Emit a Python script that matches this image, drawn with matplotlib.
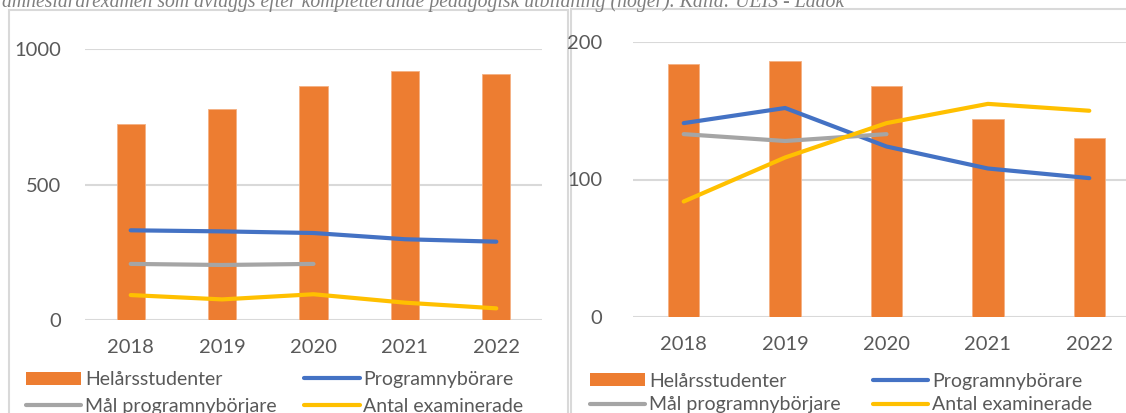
import matplotlib
matplotlib.use("Agg")
import matplotlib.pyplot as plt
from matplotlib.patches import Rectangle, Patch
from matplotlib.lines import Line2D

years = ["2018", "2019", "2020", "2021", "2022"]

# left chart
left_hst = [724, 777, 863, 918, 909]
left_nyb = [331, 327, 321, 298, 289]
left_mal = [207, 203, 207]
left_exam = [92, 76, 95, 64, 43]

# right chart
right_hst = [184, 186, 168, 144, 130]
right_nyb = [141, 152, 124, 108, 101]
right_mal = [133, 128, 133]
right_exam = [84, 116, 141, 155, 150]

caption = ("ämneslärarexamen som avläggs efter kompletterande pedagogisk "
           "utbildning (höger). Källa: UEIS - Ladok")

ORANGE = "#ED7D31"
BLUE = "#4472C4"
GRAY = "#A5A5A5"
YELLOW = "#FFC000"
TXT = "#595959"
GRID = "#D9D9D9"

plt.rcParams["font.family"] = ["Lato", "DejaVu Sans"]

W, H = 1126, 413
fig = plt.figure(figsize=(W / 100, H / 100), dpi=100)


def px_axes(x0, y_top, x1, y_bot):
    return fig.add_axes([x0 / W, 1 - y_bot / H, (x1 - x0) / W, (y_bot - y_top) / H])


def draw(ax, hst, nyb, mal, exam, ymax, step, ypad):
    x = list(range(len(years)))
    ax.bar(x, hst, width=0.31, color=ORANGE, edgecolor="#F4B183", linewidth=0.6, zorder=2)
    ax.plot(x, nyb, color=BLUE, lw=3, solid_capstyle="round", zorder=3)
    ax.plot(x[:len(mal)], mal, color=GRAY, lw=3, solid_capstyle="round", zorder=3)
    ax.plot(x, exam, color=YELLOW, lw=3, solid_capstyle="round", zorder=3)
    ax.set_xlim(-0.5, len(years) - 0.5)
    ax.set_ylim(0, ymax)
    ax.set_yticks(range(0, ymax + 1, step))
    ax.set_xticks(x)
    ax.set_xticklabels(years)
    ax.grid(axis="y", color=GRID, lw=1.5, zorder=0)
    ax.set_axisbelow(True)
    for s in ax.spines.values():
        s.set_visible(False)
    ax.tick_params(length=0, labelsize=14.5, colors=TXT)
    ax.tick_params(axis="x", pad=14)
    ax.tick_params(axis="y", pad=ypad)


# panel borders (behind the charts)
fig.add_artist(Rectangle((9 / W, -0.1), (568 - 9) / W, 1.1 - 10 / H,
                         transform=fig.transFigure, fill=False, ec=GRID, lw=1.5, zorder=0))
fig.add_artist(Rectangle((571 / W, -0.1), 0.6, 1.1 - 9.5 / H,
                         transform=fig.transFigure, fill=False, ec=GRID, lw=1.5, zorder=0))

axL = px_axes(85, 49, 542, 320)
draw(axL, left_hst, left_nyb, left_mal, left_exam, 1000, 500, 17)

axR = px_axes(633, 42, 1140, 317)
draw(axR, right_hst, right_nyb, right_mal, right_exam, 200, 100, 22)

handles = [Patch(facecolor=ORANGE),
           Line2D([], [], color=GRAY, lw=3, solid_capstyle="round"),
           Line2D([], [], color=BLUE, lw=3, solid_capstyle="round"),
           Line2D([], [], color=YELLOW, lw=3, solid_capstyle="round")]
labels = ["Helårsstudenter", "Mål programnybörjare", "Programnybörare", "Antal examinerade"]

for x0, y0, colsp, lsp in [(26, 393, 1.4, 0.5), (590, 393, 1.65, 0.35)]:
    fig.legend(handles, labels, ncol=2, loc="center left",
               bbox_to_anchor=(x0 / W, 1 - y0 / H), frameon=False,
               fontsize=14, labelcolor=TXT, handlelength=2.85, handleheight=0.65,
               handletextpad=0.2, columnspacing=colsp, labelspacing=lsp,
               borderpad=0, borderaxespad=0)

fig.text(2 / W, 1 - 7 / H, caption, family="Liberation Serif", style="italic",
         fontsize=14.2, color="#7F7F7F", ha="left", va="baseline")

fig.savefig("out.png", dpi=100)
